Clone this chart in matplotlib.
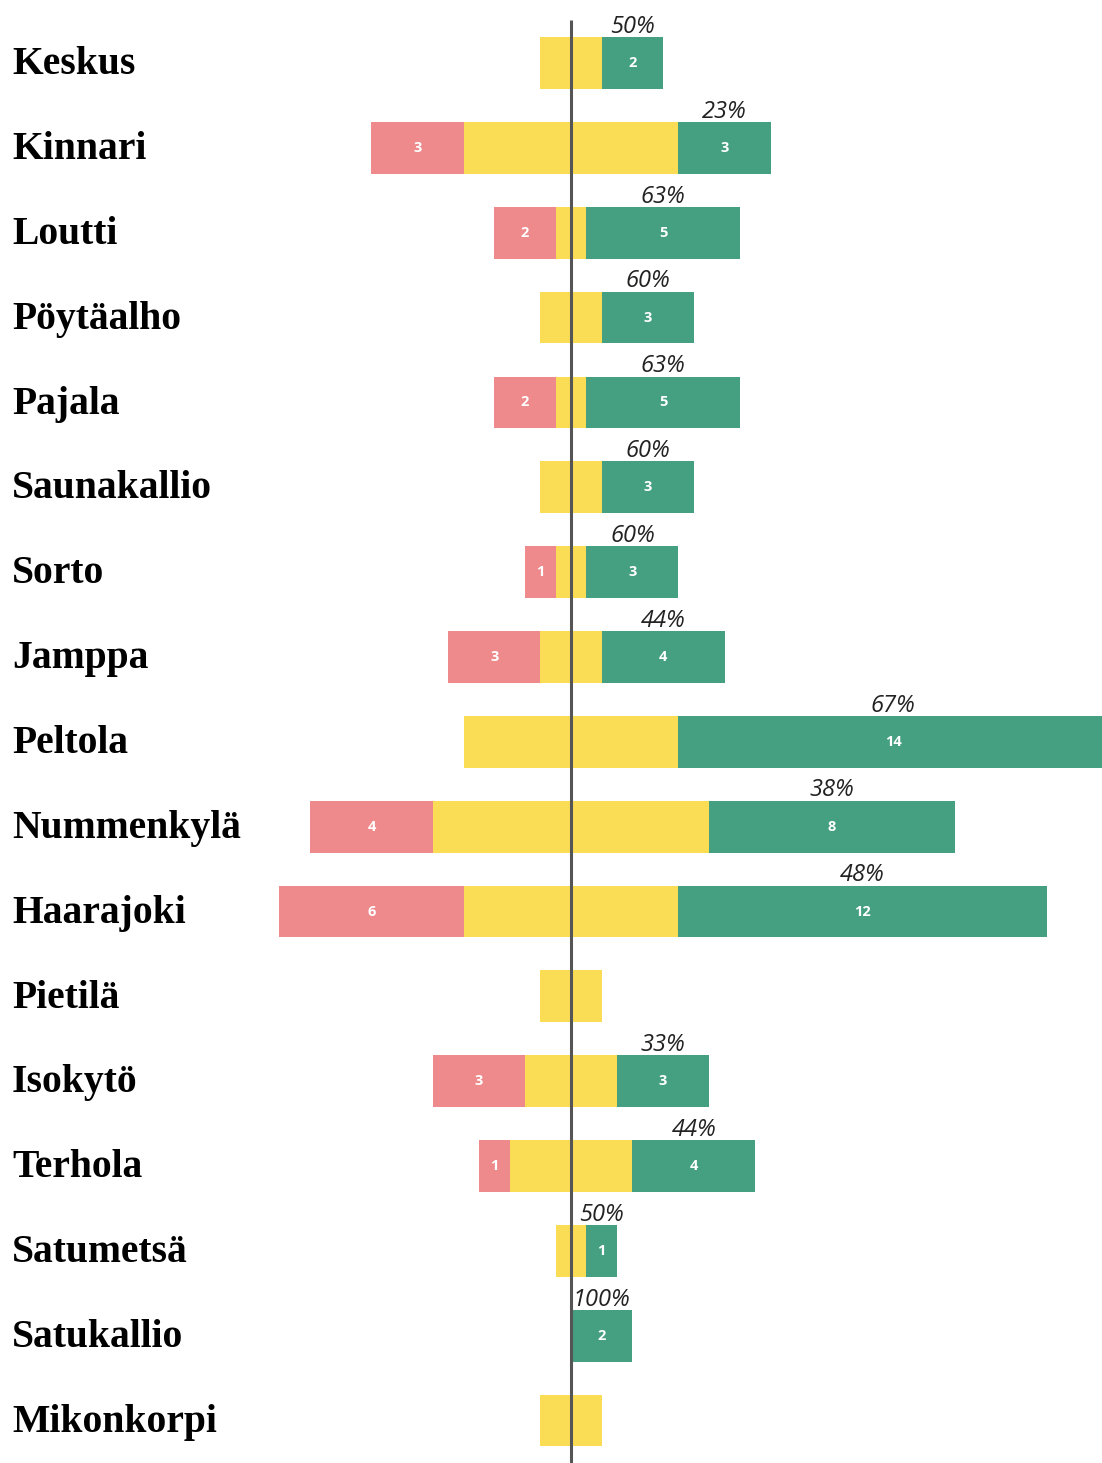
import matplotlib.pyplot as plt

alueet = ['Keskus', 'Kinnari', 'Loutti', 'Pöytäalho', 'Pajala', 'Saunakallio',
          'Sorto', 'Jamppa', 'Peltola', 'Nummenkylä', 'Haarajoki', 'Pietilä',
          'Isokytö', 'Terhola', 'Satumetsä', 'Satukallio', 'Mikonkorpi']
huono = [0, 3, 2, 0, 2, 0, 1, 3, 0, 4, 6, 0, 3, 1, 0, 0, 0]
neutraali = [2, 7, 1, 2, 1, 2, 1, 2, 7, 9, 7, 2, 3, 4, 1, 0, 2]
hyva = [2, 3, 5, 3, 5, 3, 3, 4, 14, 8, 12, 0, 3, 4, 1, 2, 0]

punainen = '#EE8A8B'
keltainen = '#FADC55'
vihrea = '#45A082'

W, H = 1102, 1463
fig = plt.figure(figsize=(W / 100, H / 100), dpi=100)
ax = fig.add_axes([0, 0, 1, 1])

yks = 30.7      # px per unit
keski = 571     # px
rivi = 84.85    # px between rows
eka = 63        # px of first row center
ax.set_xlim(-keski / yks, (W - keski) / yks)
ax.set_ylim((H - eka) / rivi, -eka / rivi)
ax.axis('off')

h = 0.61
for i, nimi in enumerate(alueet):
    n = neutraali[i]
    vas = -n / 2
    oik = n / 2
    if n:
        ax.barh(i, n, left=vas, height=h, color=keltainen)
    if huono[i]:
        ax.barh(i, huono[i], left=vas - huono[i], height=h, color=punainen)
        ax.text(vas - huono[i] / 2, i, str(huono[i]), color='white',
                fontsize=10.5, fontweight='bold', family='Open Sans',
                ha='center', va='center')
    if hyva[i]:
        ax.barh(i, hyva[i], left=oik, height=h, color=vihrea)
        ax.text(oik + hyva[i] / 2, i, str(hyva[i]), color='white',
                fontsize=10.5, fontweight='bold', family='Open Sans',
                ha='center', va='center')
        osuus = int(100 * hyva[i] / (huono[i] + n + hyva[i]) + 0.5)
        ax.text(oik + hyva[i] / 2, i - h / 2 + 0.02, f'{osuus}%',
                fontsize=17, style='italic', family='Open Sans',
                color='#222222', ha='center', va='bottom')
    ax.text((12 - keski) / yks, i + 0.02, nimi, fontsize=28.5, fontweight='bold',
            family='Liberation Serif', ha='left', va='center')

ax.plot([0, 0], [(H - eka) / rivi, (20 - eka) / rivi], color='#555555',
        lw=2.2, solid_capstyle='butt')

fig.savefig('out.png', dpi=100)
